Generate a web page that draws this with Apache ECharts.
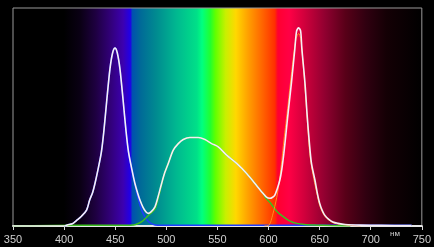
<!DOCTYPE html>
<html><head><meta charset="utf-8">
<script src="https://cdn.jsdelivr.net/npm/echarts@6/dist/echarts.min.js"></script>
<style>html,body{margin:0;padding:0;background:#000}#c{width:434px;height:247px}</style>
</head><body><div id="c"></div>
<script>
// Tick labels
const xTicks = [350, 400, 450, 500, 550, 600, 650, 700, 750];
const unitLabel = 'нм';

// Total spectrum (white)
const whiteWl = [350,400,403,408,412,417,422,425,428,430.2,433,436.5,439,441.6,444.9,447.5,449.8,452,454.6,457.9,460.5,463,466.5,469.3,472,474.2,477,480,482.3,485,488.9,492,495.4,498.5,501.9,506.8,511.7,516.6,523.1,531.2,537.8,544.3,550.8,559,568.8,578.6,586.7,594.8,598,601.3,604,606.2,608.5,611.1,613,615,617,619.2,622.5,625.8,627.5,629.5,631.4,632.6,635.6,637.8,640,642,645.4,648,650,652.5,655,659,663,668,675,690,710,740];
const whiteVal = [0,0,0.5,1,2.5,4.5,7.3,11.9,15.5,19.5,25.5,34,44,56.9,72.2,79.5,81.6,79.5,72.2,56.9,44,34,25.5,19.5,15,11.9,8.8,6.5,5.8,6.5,8.8,13.5,19.5,24.5,28.7,34.8,37.8,39.7,40.6,40.6,39.7,37.8,36.3,32.5,28.7,24.1,19.5,14.9,13.2,12.7,13.2,14.2,17,21.1,26,33.3,42,52,66,81.5,89.5,90.9,89.5,81.5,66,50.8,38,28.8,21.1,14.5,10.5,7.2,5,3,1.8,1.2,0.7,0.4,0.3,0.2];

// Green phosphor component
const greenWl = [350,420,440,460,468,472,476,480,484,488.9,492,495.4,498.5,501.9,506.8,511.7,516.6,523.1,531.2,537.8,544.3,550.8,559,568.8,578.6,586.7,594.8,597,601,604.6,609,614.4,620,627.5,635,647,660,680];
const greenVal = [0,0.3,0.3,0.3,0.5,1,2,3.7,5.5,7.8,12.5,19,24.5,28.7,34.8,37.8,39.7,40.6,40.6,39.7,37.8,36.3,32.5,28.7,24.1,19.5,14.9,13,11,8.8,6.3,4.3,2.5,1.2,0.7,0.4,0.2,0];

// Red component (orange)
const redWl = [596,600.7,604,608,611,613,615,617,619.2,622,625,627,629.5,631.5,633,635.6,637.8,640,642,645,648,650,655,663,670,680,690];
const redVal = [0,0.5,5,13,22,30,39,47,56,68,80,86,88.3,86,79,64,49.5,35,27.5,20,13.5,9.5,4.5,1.5,0.8,0.3,0];

// Blue LED component
const blueWl = [400,403,408,412,417,422,425,428,430.2,433,436.5,439,441.6,444.9,447.5,449.8,452,454.6,457.9,460.5,463,466.5,469.3,472,474.2,477,480,482.3,485,489,495,500,540,600,650,680,700,740];
const blueVal = [0,0.5,1,2.5,4.5,7.3,11.9,15.5,19.5,25.5,34,44,56.9,72.2,79.5,81.6,79.5,72.2,56.9,44,34,25.5,19,13.5,9.5,6,3.5,2.2,1.2,0.5,0.3,0.3,0.3,0.3,0.3,0.4,0.4,0.3];

const pairs = (w, v) => w.map((x, i) => [x, v[i]]);

// Spectrum background stops (wavelength -> colour)
const bgWl = [350,400,416,431,446,458,465,467,475,490,510,530,535,543,548,558,568,580,595,606,609,620,635,655,675,695,715,750];
const bgCol = ['#000000','#000000','#0a0014','#1e0040','#32007a','#3c00b0','#2000e8','#0050b0','#006a98','#008a90','#00b890','#00e088','#00ff80','#20ff30','#60ff00','#c8f000','#ffd800','#ffa000','#ff6000','#ff3000','#ff0030','#ff0045','#d0003c','#900030','#580018','#300010','#140005','#000000'];

const chart = echarts.init(document.getElementById('c'));
chart.setOption({
  backgroundColor: '#000',
  animation: false,
  grid: {
    left: 13, right: 12, top: 8, bottom: 21, show: true,
    borderColor: '#9a9a9a', borderWidth: 1,
    backgroundColor: {
      type: 'linear', x: 0, y: 0, x2: 1, y2: 0,
      colorStops: bgWl.map((w, i) => ({offset: (w - 350) / 400, color: bgCol[i]}))
    }
  },
  xAxis: {
    type: 'value', min: xTicks[0], max: xTicks[xTicks.length - 1], interval: 50,
    axisLine: {show: true, lineStyle: {color: '#e6e6e6', width: 2}},
    axisTick: {show: true, length: 4, lineStyle: {color: '#dcdcdc'}},
    axisLabel: {color: '#cfcfcf', fontSize: 11, fontFamily: 'Liberation Sans Narrow, Liberation Sans, sans-serif', margin: 8},
    splitLine: {show: false}
  },
  yAxis: {
    type: 'value', min: 0, max: 100,
    axisLine: {show: false}, axisTick: {show: false}, axisLabel: {show: false}, splitLine: {show: false}
  },
  graphic: [{
    type: 'text', left: 390, top: 230,
    style: {text: unitLabel, fill: '#d0d0d0', fontSize: 8, fontFamily: 'Liberation Sans, sans-serif'}
  }],
  series: [
    {type: 'line', data: pairs(blueWl, blueVal), smooth: 0.3, symbol: 'none', lineStyle: {color: '#1e3cff', width: 1.5}, z: 2},
    {type: 'line', data: pairs(greenWl, greenVal), smooth: 0.3, symbol: 'none', lineStyle: {color: '#3cc020', width: 1.5}, z: 3},
    {type: 'line', data: pairs(redWl, redVal), smooth: 0.3, symbol: 'none', lineStyle: {color: '#ff8a20', width: 1}, z: 4},
    {type: 'line', data: pairs(whiteWl, whiteVal), smooth: 0.3, symbol: 'none', lineStyle: {color: '#f6eef6', width: 1.6}, z: 5}
  ]
});
</script></body></html>
